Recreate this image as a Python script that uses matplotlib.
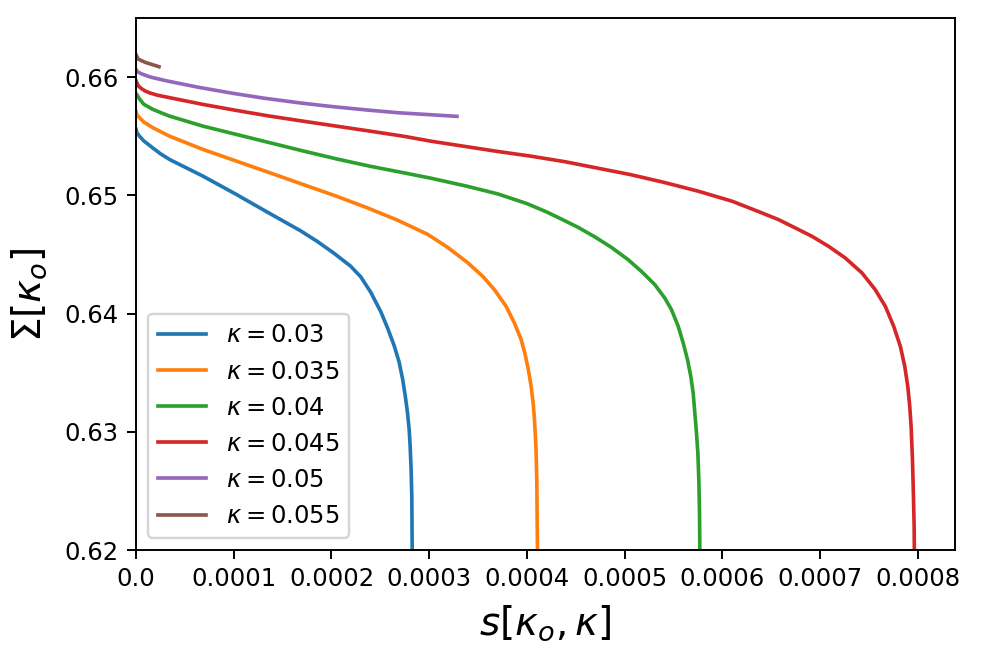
import matplotlib
matplotlib.use("Agg")
import matplotlib.pyplot as plt
import numpy as np

kappas = ["0.03", "0.035", "0.04", "0.045", "0.05", "0.055"]

# s values in units of 1e-4, Sigma values
s_003 = [0.0, 0.010, 0.036, 0.080, 0.173, 0.250, 0.344, 0.686, 1.028, 1.318, 1.684, 1.855, 2.026, 2.197, 2.300, 2.402, 2.505,
         2.573, 2.641, 2.692, 2.727, 2.754, 2.778, 2.795, 2.805, 2.815, 2.822, 2.826, 2.827]
S_003 = [0.6556, 0.6553, 0.6550, 0.6546, 0.6540, 0.65352, 0.65303, 0.65162, 0.65007, 0.6487, 0.6470, 0.6461, 0.6451, 0.6440, 0.6431, 0.6418, 0.64015,
         0.6388, 0.6373, 0.6359, 0.6345, 0.6331, 0.6316, 0.6302, 0.6288, 0.6268, 0.6245, 0.6200, 0.6190]

s_0035 = [0.0, 0.010, 0.036, 0.080, 0.173, 0.260, 0.344, 0.686, 1.028, 1.369, 1.712, 2.053, 2.368, 2.676, 2.984, 3.189, 3.394, 3.548,
          3.667, 3.787, 3.872, 3.941, 3.980, 4.015, 4.043, 4.064, 4.077, 4.087, 4.094, 4.101, 4.104, 4.108, 4.109]
S_0035 = [0.6571, 0.6568, 0.65656, 0.6562, 0.65572, 0.65535, 0.65500, 0.65388, 0.65289, 0.65191, 0.65091, 0.64992, 0.64894, 0.64790, 0.64670, 0.64560, 0.64430, 0.64315,
          0.64202, 0.64061, 0.6392, 0.6378, 0.6366, 0.63525, 0.63384, 0.63243, 0.63101, 0.62960, 0.62820, 0.62594, 0.62312, 0.6200, 0.6190]

s_004 = [0.0, 0.019, 0.036, 0.080, 0.173, 0.260, 0.344, 0.686, 1.028, 1.369, 1.712, 2.053, 2.395, 2.737, 3.017, 3.387, 3.702,
         4.000, 4.200, 4.351, 4.522, 4.692, 4.864, 5.035, 5.171, 5.308, 5.410, 5.479, 5.548, 5.599, 5.643, 5.677, 5.701, 5.718,
         5.735, 5.749, 5.759, 5.766, 5.769, 5.770]
S_004 = [0.65862, 0.65839, 0.65815, 0.6577, 0.65727, 0.65697, 0.65670, 0.65585, 0.65515, 0.65445, 0.65375, 0.65308, 0.65246, 0.65191, 0.65145, 0.65077, 0.65012,
         0.6493, 0.6486, 0.6480, 0.6473, 0.6465, 0.64560, 0.64456, 0.64357, 0.64245, 0.64132, 0.64033, 0.63892, 0.63751, 0.63610, 0.63468, 0.63328, 0.63158,
         0.62989, 0.62820, 0.62594, 0.62312, 0.6200, 0.6190]

s_0045 = [0.0, 0.015, 0.030, 0.064, 0.100, 0.146, 0.220, 0.344, 0.686, 1.028, 1.369, 1.712, 2.053, 2.395, 2.737, 3.017, 3.387, 3.702, 4.043,
          4.385, 5.056, 5.400, 5.753, 6.100, 6.402, 6.573, 6.744, 6.915, 7.086, 7.256, 7.428, 7.564, 7.667, 7.753, 7.821, 7.866,
          7.897, 7.917, 7.931, 7.945, 7.955, 7.962, 7.964, 7.965]
S_0045 = [0.6597, 0.6594, 0.6592, 0.65898, 0.6588, 0.65865, 0.65847, 0.65826, 0.65769, 0.65718, 0.65670, 0.65627, 0.65585, 0.65543, 0.65500, 0.65458, 0.65411, 0.65371, 0.65331,
          0.65285, 0.65176, 0.65110, 0.65035, 0.64950, 0.64852, 0.64795, 0.64725, 0.64654, 0.64569, 0.64471, 0.64344, 0.64202, 0.64061, 0.63892, 0.63722, 0.63553,
          0.63384, 0.63214, 0.63045, 0.6276, 0.6245, 0.6220, 0.6200, 0.6190]

s_005 = [0.0, 0.015, 0.064, 0.150, 0.303, 0.645, 0.997, 1.308, 1.684, 1.992, 2.361, 2.676, 3.284]
S_005 = [0.66065, 0.66045, 0.66025, 0.66000, 0.65970, 0.65913, 0.65862, 0.65822, 0.65781, 0.65752, 0.65722, 0.65699, 0.65668]

s_0055 = [0.0, 0.023, 0.097, 0.235]
S_0055 = [0.6619, 0.66152, 0.66124, 0.66088]

s_all = [s_003, s_0035, s_004, s_0045, s_005, s_0055]
S_all = [S_003, S_0035, S_004, S_0045, S_005, S_0055]

DPI = 175
fig = plt.figure(figsize=(989 / DPI, 656 / DPI), dpi=DPI)
ax = fig.add_axes([136 / 989, 1 - 550 / 656, (955 - 136) / 989, (550 - 18) / 656])

for k, s, S in zip(kappas, s_all, S_all):
    ax.plot(np.array(s) * 1e-4, S, lw=1.5, label=r"$\kappa = $" + k)

ax.set_xlim(0, 0.000838)
ax.set_ylim(0.62, 0.665)
ax.set_xticks(np.arange(0, 0.00081, 0.0001))
ax.set_xticklabels(["0.0", "0.0001", "0.0002", "0.0003", "0.0004", "0.0005", "0.0006", "0.0007", "0.0008"])
ax.set_yticks([0.62, 0.63, 0.64, 0.65, 0.66])
ax.set_yticklabels(["0.62", "0.63", "0.64", "0.65", "0.66"])
ax.set_xlabel(r"$s[\kappa_o,\kappa]$", fontsize=16)
ax.set_ylabel(r"$\Sigma[\kappa_o]$", fontsize=16)
ax.xaxis.set_label_coords(0.5, -0.1)
ax.yaxis.set_label_coords(-0.106, 0.48)
ax.legend(loc="lower left", fontsize=10)

fig.savefig("out.png", dpi=DPI)
